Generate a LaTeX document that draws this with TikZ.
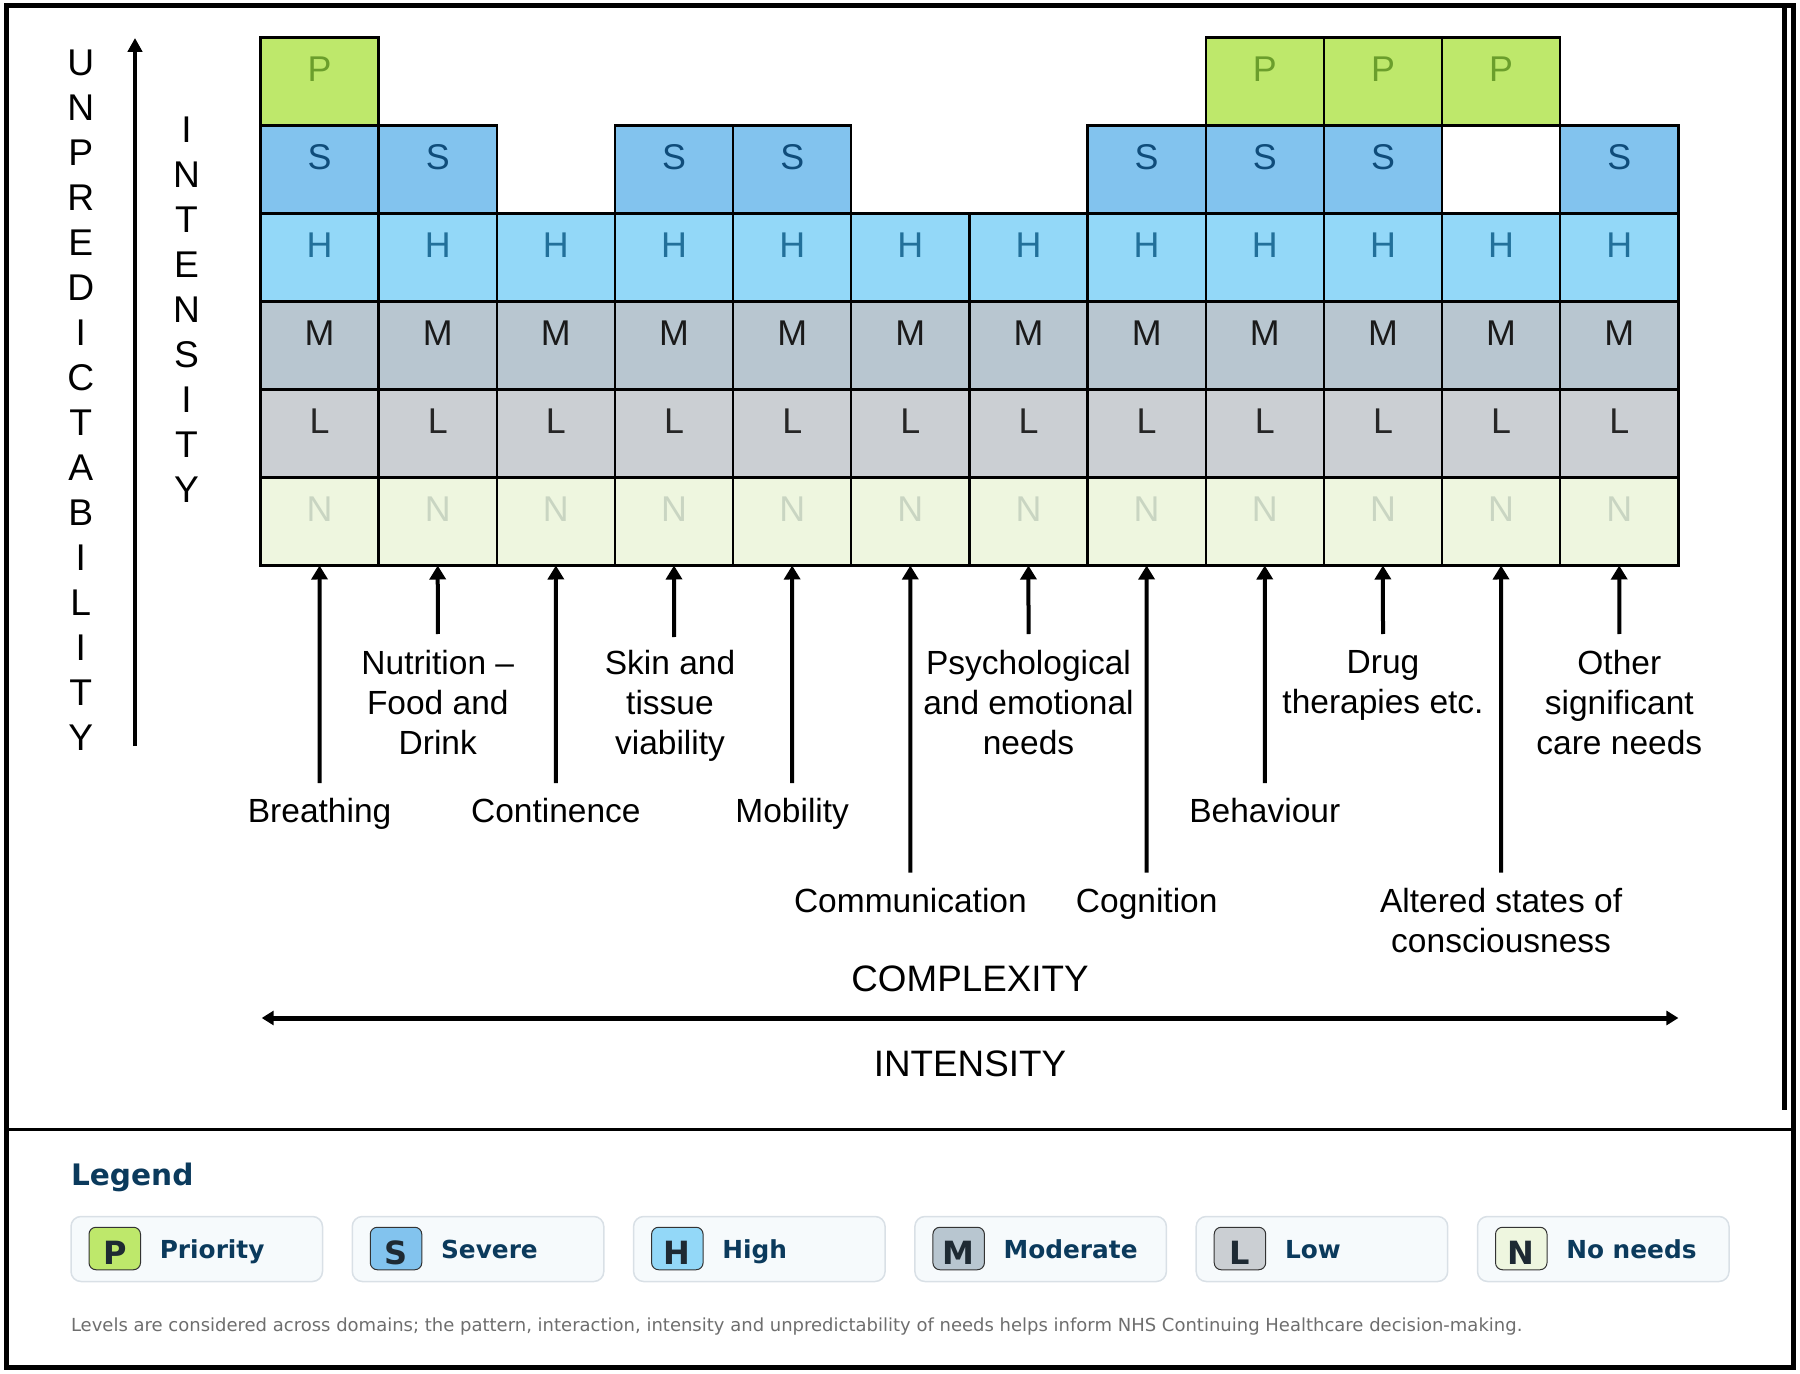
\documentclass[tikz,border=0pt]{standalone}
\usepackage{fontspec}
\setmainfont{Liberation Sans}
\newfontfamily\legfont{DejaVu Sans}
\usetikzlibrary{arrows.meta}
\definecolor{cP}{HTML}{BEE86B}
\definecolor{cS}{HTML}{82C3EE}
\definecolor{cH}{HTML}{93D8F8}
\definecolor{cM}{HTML}{B8C6D0}
\definecolor{cL}{HTML}{CBCFD3}
\definecolor{cN}{HTML}{EEF6DF}
\definecolor{tP}{HTML}{6B9E2C}
\definecolor{tS}{HTML}{0F4C7A}
\definecolor{tH}{HTML}{22709A}
\definecolor{tM}{HTML}{1A1A1A}
\definecolor{tL}{HTML}{262626}
\definecolor{tN}{HTML}{C9D5C2}
\definecolor{navy}{HTML}{0B3A5C}
\definecolor{legfill}{HTML}{F6FAFC}
\definecolor{legdraw}{HTML}{D9E0E6}
\definecolor{swdraw}{HTML}{333333}
\definecolor{swtext}{HTML}{1E2A33}
\definecolor{foot}{HTML}{6E6E6E}
\newcommand\gcell[3]{%
  \node[cellbox, fill=c#3] (c#1#3) at ({260.5+118.15*#1},{37.5+88*#2}) {};
  \node[cellletter, text=t#3] (l#1#3) at ({319.6+118.15*#1},{37.5+88*#2+31.5}) {#3};
}
\newcommand\legitem[4]{% index, letter, label, name
  \node[legbox] (lb#4) at ({71+281.3*#1+125.75},1249) {};
  \node[swatch, fill=c#2] (sw#4) at ({71+281.3*#1+43.75},1248.5) {};
  \node[swletter] (sl#4) at ({71+281.3*#1+43.75},1253.3) {#2};
  \node[leglabel] (ll#4) at ({71+281.3*#1+88.4},1258.3) {#3};
}
\begin{document}
\begin{tikzpicture}[x=0.5pt,y=-0.5pt,
  cellbox/.style={draw=black, line width=1.2pt, minimum width=59.075pt, minimum height=44pt, anchor=north west, inner sep=0pt, outer sep=0pt},
  cellletter/.style={font=\fontsize{17.9}{20}\selectfont, inner sep=0pt},
  lab/.style={font=\fontsize{16.75}{20}\selectfont, align=center, inner sep=0pt, anchor=north},
  uparrow/.style={line width=2pt, -{Triangle[width=8pt,length=7pt]}},
  stack/.style={font=\fontsize{18.6}{22.5}\selectfont, align=center, inner sep=0pt, anchor=north},
  axis/.style={font=\fontsize{18.4}{20}\selectfont, inner sep=0pt},
  legbox/.style={draw=legdraw, fill=legfill, line width=0.75pt, rounded corners=5pt, minimum width=125.75pt, minimum height=32.5pt, inner sep=0pt},
  swatch/.style={draw=swdraw, line width=0.5pt, rounded corners=3.5pt, minimum width=25.75pt, minimum height=21.25pt, inner sep=0pt},
  swletter/.style={font=\legfont\bfseries\fontsize{16}{18}\selectfont, text=swtext, inner sep=0pt},
  leglabel/.style={font=\legfont\bfseries\fontsize{12.4}{14}\selectfont, text=navy, inner sep=0pt, anchor=base west},
]
\useasboundingbox (0,0) rectangle (1800,1374);
% frame
\draw[line width=2.5pt] (6,5.5) rectangle (1793,1367.5);
\draw[line width=2.2pt] (1784.5,5.5) -- (1784.5,1110);
\draw[line width=1.5pt] (6,1129) -- (1793,1129);

% grid: rows P=0 S=1 H=2 M=3 L=4 N=5
\foreach \c in {0,...,11}{
  \gcell{\c}{2}{H}
  \gcell{\c}{3}{M}
  \gcell{\c}{4}{L}
  \gcell{\c}{5}{N}
}
\foreach \c in {0,1,3,4,7,8,9,11}{ \gcell{\c}{1}{S} }
\foreach \c in {0,8,9,10}{ \gcell{\c}{0}{P} }
\node[cellbox, fill=white] (c10S) at ({260.5+118.15*10},{37.5+88}) {};

% labels
\node[lab] (bBreathing) at (319.6,798) {Breathing};
\node[lab] (bNutrition) at (437.8,650) {Nutrition –\\Food and\\Drink};
\node[lab] (bContinence) at (555.9,798) {Continence};
\node[lab] (bSkin) at (670,650) {Skin and\\tissue\\viability};
\node[lab] (bMobility) at (792.2,798) {Mobility};
\node[lab] (bCommunication) at (910.4,888) {Communication};
\node[lab] (bPsych) at (1028.5,650) {Psychological\\and emotional\\needs};
\node[lab] (bCognition) at (1146.7,888) {Cognition};
\node[lab] (bBehaviour) at (1264.8,798) {Behaviour};
\node[lab] (bDrug) at (1383,650) {Drug\\therapies etc.};
\node[lab] (bAltered) at (1501.1,888) {Altered states of\\consciousness};
\node[lab] (bOther) at (1619.3,650) {Other\\significant\\care needs};

% arrow tails
\coordinate (t0) at (319.6,783);
\coordinate (t1) at (437.8,634);
\coordinate (t2) at (555.9,783);
\coordinate (t3) at (674.1,637);
\coordinate (t4) at (792.2,783);
\coordinate (t5) at (910.4,872.5);
\coordinate (t6) at (1028.5,634);
\coordinate (t7) at (1146.7,872.5);
\coordinate (t8) at (1264.8,783);
\coordinate (t9) at (1383,634);
\coordinate (t10) at (1501.1,872.5);
\coordinate (t11) at (1619.3,634);
\foreach \c in {0,...,11}{ \draw[uparrow] (t\c) -- (c\c N.south); }

% vertical axis
\coordinate (vb) at (135,746);
\coordinate (vt) at (135,38);
\draw[line width=2.25pt, -{Triangle[width=7.2pt,length=7pt]}] (vb) -- (vt);
\node[stack] (unpred) at (80.8,49.3) {U\\N\\P\\R\\E\\D\\I\\C\\T\\A\\B\\I\\L\\I\\T\\Y};
\node[stack] (inten) at (186.5,116.7) {I\\N\\T\\E\\N\\S\\I\\T\\Y};

% horizontal axis
\node[axis] (complexity) at (970,979) {COMPLEXITY};
\coordinate (hl) at (261.7,1018);
\coordinate (hr) at (1678.4,1018);
\draw[line width=2.5pt, {Triangle[width=7pt,length=6pt]}-{Triangle[width=7pt,length=6pt]}] (hl) -- (hr);
\node[axis] (intensity) at (970,1064) {INTENSITY};

% legend
\node[font=\legfont\bfseries\fontsize{14.8}{16}\selectfont, text=navy, anchor=base west, inner sep=0pt] (legtitle) at (70.6,1185) {Legend};
\legitem{0}{P}{Priority}{P}
\legitem{1}{S}{Severe}{S}
\legitem{2}{H}{High}{H}
\legitem{3}{M}{Moderate}{M}
\legitem{4}{L}{Low}{L}
\legitem{5}{N}{No needs}{N}
\node[font=\legfont\fontsize{9}{11}\selectfont, text=foot, anchor=base west, inner sep=0pt] (footnote) at (70.6,1331.7) {Levels are considered across domains; the pattern, interaction, intensity and unpredictability of needs helps inform NHS Continuing Healthcare decision-making.};
\end{tikzpicture}
\end{document}
